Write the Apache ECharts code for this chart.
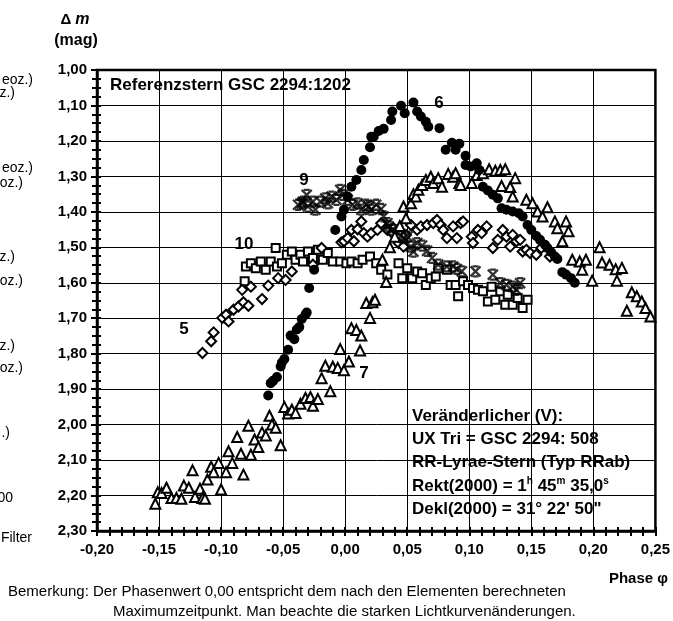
<!DOCTYPE html>
<html>
<head>
<meta charset="utf-8">
<script src="https://cdn.jsdelivr.net/npm/echarts@6/dist/echarts.min.js"></script>
<style>
  html, body { margin: 0; padding: 0; background: #fff; }
  #chart { width: 673px; height: 621px; }
</style>
</head>
<body>
<div id="chart"></div>
<script>
// Lichtkurven UX Tri, Phase vs. Delta m  (one array per night)
const seriesNames = ["5", "6", "7", "9", "10"];

const night5 = [
  [-0.115, 1.798], [-0.108, 1.765], [-0.106, 1.740], [-0.099, 1.699], [-0.096, 1.690], [-0.094, 1.709],
  [-0.090, 1.676], [-0.086, 1.667], [-0.083, 1.620], [-0.082, 1.655], [-0.078, 1.665], [-0.076, 1.611],
  [-0.067, 1.646], [-0.062, 1.608], [-0.054, 1.587], [-0.048, 1.592], [-0.043, 1.568], [-0.026, 1.549],
  [-0.019, 1.502], [-0.003, 1.486], [-0.001, 1.483], [0.002, 1.474], [0.005, 1.451], [0.007, 1.483],
  [0.010, 1.449], [0.013, 1.427], [0.015, 1.460], [0.018, 1.470], [0.021, 1.460], [0.026, 1.451],
  [0.029, 1.432], [0.034, 1.451], [0.038, 1.460], [0.039, 1.446], [0.043, 1.488], [0.047, 1.498],
  [0.049, 1.465], [0.053, 1.437], [0.058, 1.451], [0.061, 1.441], [0.066, 1.437], [0.071, 1.432],
  [0.074, 1.423], [0.077, 1.437], [0.079, 1.451], [0.082, 1.474], [0.087, 1.441], [0.090, 1.474],
  [0.093, 1.432], [0.095, 1.427], [0.102, 1.470], [0.103, 1.488], [0.107, 1.451], [0.110, 1.460],
  [0.114, 1.441], [0.119, 1.502], [0.123, 1.479], [0.127, 1.451], [0.130, 1.470], [0.133, 1.498],
  [0.135, 1.465], [0.138, 1.483], [0.141, 1.479], [0.143, 1.512], [0.146, 1.507], [0.149, 1.516],
  [0.154, 1.521], [0.158, 1.502], [0.165, 1.526]
];

const night6 = [
  [-0.062, 1.918], [-0.060, 1.883], [-0.058, 1.876], [-0.055, 1.866], [-0.052, 1.836], [-0.051, 1.825],
  [-0.049, 1.815], [-0.046, 1.789], [-0.044, 1.749], [-0.041, 1.759], [-0.039, 1.732], [-0.037, 1.725],
  [-0.035, 1.702], [-0.032, 1.690], [-0.031, 1.684], [-0.029, 1.615], [-0.025, 1.563], [-0.008, 1.451],
  [-0.003, 1.413], [-0.001, 1.394], [0.002, 1.357], [0.005, 1.329], [0.009, 1.310], [0.013, 1.282],
  [0.015, 1.254], [0.020, 1.218], [0.021, 1.188], [0.023, 1.188], [0.027, 1.172], [0.031, 1.166],
  [0.037, 1.141], [0.038, 1.117], [0.045, 1.101], [0.048, 1.122], [0.055, 1.092], [0.058, 1.117],
  [0.061, 1.131], [0.065, 1.146], [0.067, 1.160], [0.076, 1.164], [0.081, 1.225], [0.086, 1.205],
  [0.089, 1.225], [0.092, 1.208], [0.097, 1.242], [0.097, 1.268], [0.101, 1.272], [0.106, 1.263],
  [0.108, 1.282], [0.111, 1.329], [0.115, 1.340], [0.119, 1.352], [0.123, 1.362], [0.126, 1.390],
  [0.130, 1.394], [0.135, 1.399], [0.140, 1.404], [0.143, 1.413], [0.147, 1.437], [0.150, 1.451],
  [0.154, 1.468], [0.157, 1.479], [0.161, 1.493], [0.163, 1.502], [0.166, 1.514], [0.169, 1.526],
  [0.171, 1.533], [0.175, 1.570], [0.178, 1.577], [0.182, 1.587], [0.185, 1.600]
];

const night7 = [
  [-0.153, 2.223], [-0.151, 2.191], [-0.148, 2.193], [-0.144, 2.178], [-0.140, 2.207], [-0.136, 2.207],
  [-0.132, 2.209], [-0.130, 2.172], [-0.126, 2.178], [-0.123, 2.129], [-0.121, 2.204], [-0.117, 2.181],
  [-0.115, 2.207], [-0.113, 2.209], [-0.111, 2.155], [-0.108, 2.119], [-0.106, 2.134], [-0.102, 2.108],
  [-0.100, 2.183], [-0.096, 2.134], [-0.094, 2.075], [-0.091, 2.108], [-0.087, 2.035], [-0.084, 2.082],
  [-0.082, 2.141], [-0.078, 2.003], [-0.076, 2.085], [-0.073, 2.042], [-0.070, 2.063], [-0.067, 2.022],
  [-0.064, 2.031], [-0.061, 1.975], [-0.059, 2.000], [-0.056, 2.009], [-0.052, 2.058], [-0.049, 1.950],
  [-0.046, 1.969], [-0.043, 1.958], [-0.040, 1.967], [-0.036, 1.941], [-0.032, 1.925], [-0.028, 1.922],
  [-0.026, 1.947], [-0.022, 1.928], [-0.019, 1.869], [-0.016, 1.834], [-0.012, 1.906], [-0.010, 1.837],
  [-0.006, 1.840], [-0.004, 1.787], [-0.001, 1.847], [0.003, 1.822], [0.005, 1.728], [0.009, 1.733],
  [0.012, 1.791], [0.013, 1.749], [0.017, 1.657], [0.020, 1.699], [0.022, 1.655], [0.024, 1.648],
  [0.030, 1.535], [0.033, 1.598], [0.036, 1.500], [0.040, 1.470], [0.044, 1.440], [0.047, 1.385],
  [0.049, 1.418], [0.053, 1.376], [0.055, 1.350], [0.057, 1.357], [0.059, 1.338], [0.062, 1.324],
  [0.065, 1.310], [0.069, 1.301], [0.071, 1.319], [0.075, 1.305], [0.078, 1.329], [0.083, 1.293],
  [0.087, 1.301], [0.089, 1.291], [0.092, 1.319], [0.093, 1.324], [0.102, 1.319], [0.106, 1.296],
  [0.111, 1.291], [0.116, 1.280], [0.121, 1.284], [0.125, 1.282], [0.129, 1.280], [0.126, 1.327],
  [0.133, 1.330], [0.135, 1.357], [0.137, 1.305], [0.146, 1.366], [0.151, 1.376], [0.155, 1.399],
  [0.159, 1.413], [0.163, 1.387], [0.169, 1.427], [0.171, 1.446], [0.175, 1.483], [0.178, 1.427],
  [0.180, 1.455], [0.183, 1.535], [0.189, 1.540], [0.191, 1.563], [0.194, 1.535], [0.199, 1.594],
  [0.205, 1.500], [0.207, 1.543], [0.213, 1.549], [0.218, 1.562], [0.219, 1.594], [0.223, 1.558],
  [0.227, 1.679], [0.231, 1.627], [0.235, 1.638], [0.239, 1.653], [0.242, 1.671], [0.246, 1.695]
];

const night9 = [
  [-0.038, 1.380], [-0.035, 1.376], [-0.034, 1.371], [-0.031, 1.352], [-0.030, 1.385], [-0.026, 1.371],
  [-0.024, 1.394], [-0.020, 1.371], [-0.016, 1.362], [-0.014, 1.376], [-0.011, 1.357], [-0.007, 1.366],
  [-0.004, 1.338], [-0.002, 1.352], [0.002, 1.366], [0.006, 1.380], [0.010, 1.376], [0.013, 1.394],
  [0.017, 1.380], [0.019, 1.385], [0.021, 1.394], [0.025, 1.380], [0.029, 1.392], [0.031, 1.413],
  [0.034, 1.432], [0.035, 1.441], [0.038, 1.451], [0.042, 1.460], [0.047, 1.474], [0.050, 1.470],
  [0.053, 1.498], [0.055, 1.512], [0.058, 1.488], [0.062, 1.495], [0.066, 1.510], [0.070, 1.530],
  [0.075, 1.549], [0.082, 1.554], [0.087, 1.554], [0.090, 1.561], [0.094, 1.568], [0.105, 1.568],
  [0.119, 1.577], [0.125, 1.601], [0.130, 1.606], [0.135, 1.611], [0.138, 1.620], [0.141, 1.601]
];

const night10 = [
  [-0.081, 1.596], [-0.080, 1.554], [-0.076, 1.545], [-0.072, 1.559], [-0.068, 1.540], [-0.064, 1.563],
  [-0.060, 1.540], [-0.056, 1.502], [-0.055, 1.554], [-0.051, 1.545], [-0.047, 1.521], [-0.043, 1.512],
  [-0.040, 1.535], [-0.036, 1.521], [-0.034, 1.540], [-0.030, 1.512], [-0.026, 1.530], [-0.022, 1.507],
  [-0.018, 1.535], [-0.014, 1.516], [-0.010, 1.540], [-0.004, 1.540], [0.001, 1.545], [0.005, 1.540],
  [0.010, 1.545], [0.014, 1.535], [0.020, 1.526], [0.025, 1.545], [0.029, 1.563], [0.034, 1.577],
  [0.043, 1.545], [0.046, 1.587], [0.050, 1.559], [0.054, 1.587], [0.058, 1.568], [0.062, 1.573],
  [0.065, 1.606], [0.069, 1.587], [0.073, 1.582], [0.075, 1.559], [0.082, 1.563], [0.085, 1.606],
  [0.089, 1.606], [0.091, 1.638], [0.095, 1.596], [0.099, 1.606], [0.103, 1.615], [0.107, 1.620],
  [0.111, 1.624], [0.115, 1.653], [0.118, 1.611], [0.121, 1.648], [0.125, 1.624], [0.129, 1.662],
  [0.131, 1.634], [0.135, 1.662], [0.139, 1.643], [0.143, 1.671], [0.147, 1.648]
];

// axis ranges (phase on x, magnitude difference on y, inverted)
const phaseRange = [-0.20, 0.25];
const magRange = [1.00, 2.30];

const FONT = '"Liberation Sans", Arial, sans-serif';
const fmt = v => (Math.abs(v) < 1e-9 ? 0 : v).toFixed(2).replace(".", ",");

const chart = echarts.init(document.getElementById("chart"), null, { renderer: "canvas" });

const baseX = {
  type: "value",
  min: phaseRange[0],
  max: phaseRange[1],
  interval: 0.05,
  position: "bottom"
};
const baseY = {
  type: "value",
  min: magRange[0],
  max: magRange[1],
  interval: 0.1,
  inverse: true,
  position: "left"
};

function openSymbol(symbol, size) {
  return {
    type: "scatter",
    symbol: symbol,
    symbolSize: size,
    itemStyle: { color: "#fff", borderColor: "#000", borderWidth: 2, opacity: 1 }
  };
}

const option = {
  animation: false,
  backgroundColor: "#fff",
  textStyle: { fontFamily: FONT },
  grid: {
    left: 97, top: 70, width: 560, height: 461,
    show: true, borderColor: "#000", borderWidth: 2.5, backgroundColor: "transparent"
  },
  xAxis: [
    Object.assign({}, baseX, {
      axisLine: { onZero: false, lineStyle: { color: "#000", width: 2.5 } },
      axisTick: { show: true, length: 5, lineStyle: { color: "#000", width: 2 } },
      minorTick: { show: true, splitNumber: 5, length: 5, lineStyle: { color: "#000", width: 2 } },
      axisLabel: {
        color: "#000", fontFamily: FONT, fontWeight: "bold", fontSize: 15, margin: 11,
        formatter: fmt
      },
      splitLine: { show: true, lineStyle: { color: "#000", width: 1 } }
    }),
    Object.assign({}, baseX, {
      axisLine: { show: false, onZero: false },
      axisTick: { show: true, inside: true, length: 4, lineStyle: { color: "#000", width: 2 } },
      minorTick: { show: true, splitNumber: 5, length: 4, lineStyle: { color: "#000", width: 2 } },
      axisLabel: { show: false },
      splitLine: { show: false }
    })
  ],
  yAxis: [
    Object.assign({}, baseY, {
      axisLine: { onZero: false, lineStyle: { color: "#000", width: 2.5 } },
      axisTick: { show: true, length: 6, lineStyle: { color: "#000", width: 2 } },
      minorTick: { show: true, splitNumber: 4, length: 5, lineStyle: { color: "#000", width: 2 } },
      axisLabel: {
        color: "#000", fontFamily: FONT, fontWeight: "bold", fontSize: 15, margin: 10,
        formatter: fmt
      },
      splitLine: { show: true, lineStyle: { color: "#000", width: 1 } }
    }),
    Object.assign({}, baseY, {
      axisLine: { show: false, onZero: false },
      axisTick: { show: true, inside: true, length: 4, lineStyle: { color: "#000", width: 2 } },
      minorTick: { show: true, splitNumber: 4, length: 4, lineStyle: { color: "#000", width: 2 } },
      axisLabel: { show: false },
      splitLine: { show: false }
    })
  ],
  series: [
    Object.assign(openSymbol("rect", 8), { name: seriesNames[4], data: night10 }),
    Object.assign(openSymbol("diamond", 10), { name: seriesNames[0], data: night5 }),
    {
      name: seriesNames[3],
      type: "scatter",
      symbol: "path://M0,0L10,10M10,0L0,10M2,0L8,0M2,10L8,10",
      symbolSize: 10,
      itemStyle: { color: "none", borderColor: "#000", borderWidth: 2.3 },
      data: night9
    },
    Object.assign(openSymbol("triangle", 10), { name: seriesNames[2], data: night7 }),
    {
      name: seriesNames[1],
      type: "scatter",
      symbol: "circle",
      symbolSize: 10,
      itemStyle: { color: "#000", opacity: 1 },
      data: night6
    }
  ],
  graphic: []
};

// text pieces around and inside the plot
function txt(x, y, text, font, align) {
  return {
    type: "text", x: x, y: y, z: 100,
    style: { text: text, font: font, fill: "#000", align: align || "left", verticalAlign: "middle" }
  };
}
const B15 = "bold 15px " + FONT;
const B17 = "bold 17px " + FONT;
const R14 = "14px " + FONT;
const R15 = "15px " + FONT;

option.graphic.push(
  {
    type: "text", x: 75, y: 20, z: 100,
    style: {
      text: "{a|Δ }{b|m}", align: "center", verticalAlign: "middle",
      rich: { a: { font: B15, fill: "#000" }, b: { font: "italic bold 16px " + FONT, fill: "#000" } }
    }
  },
  txt(76, 41, "(mag)", "bold 16px " + FONT, "center"),
  txt(668, 579, "Phase φ", B15, "right"),
  txt(110, 85, "Referenzstern GSC 2294:1202", B17),
  // night numbers
  txt(184, 329, "5", B17, "center"),
  txt(439, 103, "6", B17, "center"),
  txt(364, 373, "7", B17, "center"),
  txt(304, 180, "9", B17, "center"),
  txt(244, 244, "10", B17, "center"),
  // star information box
  txt(412, 416, "Veränderlicher (V):", B17),
  txt(412, 439, "UX Tri = GSC 2294: 508", B17),
  txt(412, 462, "RR-Lyrae-Stern (Typ RRab)", B17),
  {
    type: "text", x: 412, y: 486, z: 100,
    style: {
      text: "{a|Rekt(2000) = 1}{s|h}{a| 45}{s|m}{a| 35,0}{s|s}",
      verticalAlign: "middle",
      rich: {
        a: { font: B17, fill: "#000" },
        s: { font: "bold 10px " + FONT, fill: "#000", verticalAlign: "top", padding: [0, 0, 9, 0] }
      }
    }
  },
  txt(412, 509, "Dekl(2000) = 31° 22' 50\"", B17),
  // remark below the chart
  txt(8, 592, "Bemerkung: Der Phasenwert 0,00 entspricht dem nach den Elementen berechneten", R15),
  txt(113, 612, "Maximumzeitpunkt. Man beachte die starken Lichtkurvenänderungen.", R15),
  // cut-off legend fragments at the left edge
  txt(33, 80, "eoz.)", R14, "right"),
  txt(15, 93, "z.)", R14, "right"),
  txt(33, 168, "eoz.)", R14, "right"),
  txt(23, 183, "oz.)", R14, "right"),
  txt(15, 257, "z.)", R14, "right"),
  txt(23, 281, "oz.)", R14, "right"),
  txt(15, 346, "z.)", R14, "right"),
  txt(23, 368, "oz.)", R14, "right"),
  txt(10, 433, ".)", R14, "right"),
  txt(13, 498, "00", R14, "right"),
  txt(32, 538, "Filter", R14, "right")
);

chart.setOption(option);
</script>
</body>
</html>
